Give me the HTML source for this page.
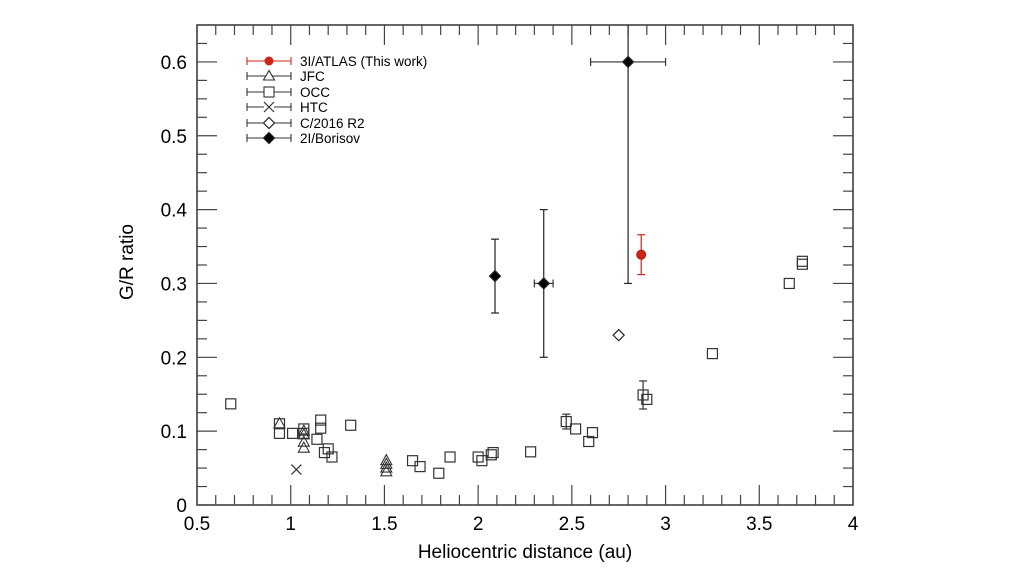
<!DOCTYPE html>
<html><head><meta charset="utf-8"><style>
html,body{margin:0;padding:0;background:#fff;}
svg{display:block;font-family:"Liberation Sans",Arial,sans-serif;}
</style></head><body>
<svg id="chart" width="1024" height="575" viewBox="0 0 1024 575">
<g id="axes"></g>
<g id="marks"></g>
<g id="legend"></g>
<text x="525" y="558" font-size="19" text-anchor="middle">Heliocentric distance (au)</text>
<text transform="translate(133,262) rotate(-90)" font-size="19" text-anchor="middle">G/R ratio</text>
</svg>
<script>
const xTicks=[0.5,1,1.5,2,2.5,3,3.5,4];
const xTickLabels=["0.5","1","1.5","2","2.5","3","3.5","4"];
const yTicks=[0,0.1,0.2,0.3,0.4,0.5,0.6];
const yTickLabels=["0","0.1","0.2","0.3","0.4","0.5","0.6"];
const occX=[0.68,0.94,0.94,1.01,1.07,1.07,1.14,1.16,1.16,1.18,1.2,1.22,1.32,1.65,1.69,1.79,1.85,2.0,2.02,2.07,2.08,2.28,2.47,2.52,2.59,2.61,2.88,2.9,3.25,3.66,3.73,3.73];
const occY=[0.137,0.097,0.11,0.097,0.103,0.097,0.089,0.115,0.104,0.071,0.076,0.065,0.108,0.06,0.052,0.043,0.065,0.065,0.06,0.068,0.071,0.072,0.113,0.103,0.086,0.098,0.149,0.143,0.205,0.30,0.33,0.326];
const occErrX=[2.47,2.88];
const occErrLo=[0.103,0.13];
const occErrHi=[0.123,0.168];
const jfcX=[0.94,1.07,1.07,1.07,1.07,1.51,1.51,1.51,1.51];
const jfcY=[0.11,0.1,0.095,0.085,0.077,0.06,0.055,0.05,0.045];
const htcX=[1.03];
const htcY=[0.048];
const c2016X=[2.75];
const c2016Y=[0.23];
const borX=[2.09,2.35,2.8];
const borY=[0.31,0.30,0.60];
const borYLo=[0.26,0.20,0.30];
const borYHi=[0.36,0.40,0.90];
const borXLo=[2.09,2.30,2.60];
const borXHi=[2.09,2.40,3.00];
const atlasX=[2.87];
const atlasY=[0.339];
const atlasYLo=[0.312];
const atlasYHi=[0.366];

const L=197,R=853,T=25,B=505,xmin=0.5,xmax=4,ymin=0,ymax=0.65;
const sx=v=>L+(v-xmin)/(xmax-xmin)*(R-L);
const sy=v=>B-(v-ymin)/(ymax-ymin)*(B-T);
const NS="http://www.w3.org/2000/svg";
function mk(tag,attrs,parent){const e=document.createElementNS(NS,tag);for(const k in attrs)e.setAttribute(k,attrs[k]);parent.appendChild(e);return e;}
const axes=document.getElementById('axes'),marks=document.getElementById('marks'),leg=document.getElementById('legend');
const fr=mk('rect',{x:L,y:T,width:R-L,height:B-T,fill:'none',stroke:'#333','stroke-width':1.5},axes);


// x ticks
for(let i=0;i<=35;i++){const v=0.5+i*0.1;const x=sx(v);const maj=(i%5===0);const len=maj?20:10;
 mk('line',{x1:x,y1:B,x2:x,y2:B-len,stroke:'#444','stroke-width':1.2},axes);
 mk('line',{x1:x,y1:T,x2:x,y2:T+len,stroke:'#444','stroke-width':1.2},axes);}
xTicks.forEach((v,i)=>{const t=mk('text',{x:sx(v),y:530,'font-size':19,'text-anchor':'middle'},axes);t.textContent=xTickLabels[i];
 
 });
for(let i=0;i<=26;i++){const v=i*0.025;const y=sy(v);const maj=(i%4===0);const len=maj?20:10;
 mk('line',{x1:L,y1:y,x2:L+len,y2:y,stroke:'#444','stroke-width':1.2},axes);
 mk('line',{x1:R,y1:y,x2:R-len,y2:y,stroke:'#444','stroke-width':1.2},axes);}
yTicks.forEach((v,i)=>{const t=mk('text',{x:187,y:sy(v)+7,'font-size':19,'text-anchor':'end'},axes);t.textContent=yTickLabels[i];
 
 });
const clip=mk('clipPath',{id:'pc'},document.getElementById('chart'));mk('rect',{x:L,y:T,width:R-L,height:B-T},clip);
marks.setAttribute('clip-path','url(#pc)');
function vbar(x,lo,hi,col,g){const X=sx(x);mk('line',{x1:X,y1:sy(lo),x2:X,y2:sy(hi),stroke:col,'stroke-width':1.2},g);
 mk('line',{x1:X-4,y1:sy(lo),x2:X+4,y2:sy(lo),stroke:col,'stroke-width':1.2},g);mk('line',{x1:X-4,y1:sy(hi),x2:X+4,y2:sy(hi),stroke:col,'stroke-width':1.2},g);}
function hbar(y,lo,hi,col,g){const Y=sy(y);mk('line',{x1:sx(lo),y1:Y,x2:sx(hi),y2:Y,stroke:col,'stroke-width':1.2},g);
 mk('line',{x1:sx(lo),y1:Y-4,x2:sx(lo),y2:Y+4,stroke:col,'stroke-width':1.2},g);mk('line',{x1:sx(hi),y1:Y-4,x2:sx(hi),y2:Y+4,stroke:col,'stroke-width':1.2},g);}
function sq(X,Y,g){return mk('rect',{x:X-5,y:Y-5,width:10,height:10,fill:'none',stroke:'#333','stroke-width':1.2},g);}
function tri(X,Y,g){return mk('polygon',{points:`${X},${Y-6} ${X-5.5},${Y+4} ${X+5.5},${Y+4}`,fill:'none',stroke:'#333','stroke-width':1.1},g);}
function cross(X,Y,g){const p=mk('path',{d:`M${X-5},${Y-5}L${X+5},${Y+5}M${X+5},${Y-5}L${X-5},${Y+5}`,stroke:'#333','stroke-width':1.2,fill:'none'},g);return p;}
function dia(X,Y,g,fill){return mk('polygon',{points:`${X},${Y-5.5} ${X+5.5},${Y} ${X},${Y+5.5} ${X-5.5},${Y}`,fill:fill,stroke:'#222','stroke-width':1.2},g);}
occErrX.forEach((x,i)=>vbar(x,occErrLo[i],occErrHi[i],'#333',marks));
occX.forEach((x,i)=>{const e=sq(sx(x),sy(occY[i]),marks);
 
 });
jfcX.forEach((x,i)=>{const e=tri(sx(x),sy(jfcY[i]),marks);
 
 });
htcX.forEach((x,i)=>{const e=cross(sx(x),sy(htcY[i]),marks);
 
 });
c2016X.forEach((x,i)=>{const e=dia(sx(x),sy(c2016Y[i]),marks,'#fff');
 
 });
borX.forEach((x,i)=>{vbar(x,borYLo[i],borYHi[i],'#222',marks);if(borXHi[i]>borXLo[i])hbar(borY[i],borXLo[i],borXHi[i],'#333',marks);
 const e=dia(sx(x),sy(borY[i]),marks,'#000');
 
 });
atlasX.forEach((x,i)=>{vbar(x,atlasYLo[i],atlasYHi[i],'#d0261a',marks);
 const e=mk('circle',{cx:sx(x),cy:sy(atlasY[i]),r:4.5,fill:'#d0261a',stroke:'#b01810','stroke-width':1},marks);
 
 });
// legend
const names=["3I/ATLAS (This work)","JFC","OCC","HTC","C/2016 R2","2I/Borisov"];
const rowsY=[61,76,92,107,123,138];
names.forEach((n,i)=>{const y=rowsY[i];const col=i===0?'#d0261a':'#333';const g=mk('g',{},leg);
 
 
 mk('line',{x1:247,y1:y,x2:291,y2:y,stroke:col,'stroke-width':1.1},g);
 mk('line',{x1:247,y1:y-4,x2:247,y2:y+4,stroke:col,'stroke-width':1.1},g);
 mk('line',{x1:291,y1:y-4,x2:291,y2:y+4,stroke:col,'stroke-width':1.1},g);
 if(i===0)mk('circle',{cx:269,cy:y,r:4.5,fill:'#d0261a'},g);
 else if(i===1)mk('polygon',{points:`269,${y-5.5} 263.5,${y+4} 274.5,${y+4}`,fill:'#fff',stroke:'#333','stroke-width':1.1},g);
 else if(i===2)mk('rect',{x:264,y:y-5,width:10,height:10,fill:'#fff',stroke:'#333','stroke-width':1.1},g);
 else if(i===3){mk('rect',{x:264,y:y-5,width:10,height:10,fill:'#fff'},g);cross(269,y,g);}
 else dia(269,y,g,i===4?'#fff':'#000');
 const t=mk('text',{x:300,y:y+5,'font-size':13.5},g);t.textContent=n;});
</script>
</body></html>
